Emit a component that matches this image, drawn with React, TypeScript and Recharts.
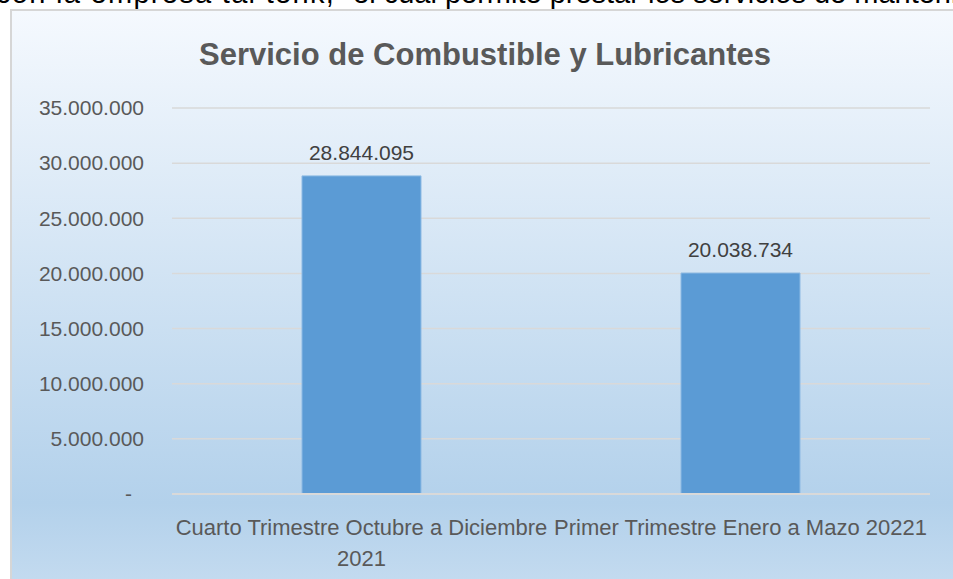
import { Bar, BarChart, CartesianGrid, LabelList, XAxis, YAxis } from "recharts"

const categories = [
  "Cuarto Trimestre Octubre a Diciembre 2021",
  "Primer Trimestre Enero a Mazo 20221",
]
const values = [28844095, 20038734]
const yTicks = [0, 5000000, 10000000, 15000000, 20000000, 25000000, 30000000, 35000000]

const data = categories.map((name, i) => ({ name, value: values[i] }))

const font = "'Liberation Sans', Arial, sans-serif"

const fmt = (v: number) => String(v).replace(/\B(?=(\d{3})+(?!\d))/g, ".")

let ctx: CanvasRenderingContext2D | null = null
function wrap(str: string, maxWidth: number, cssFont: string) {
  if (!ctx) ctx = document.createElement("canvas").getContext("2d")
  if (!ctx) return [str]
  ctx.font = cssFont
  const words = str.split(" ")
  const lines: string[] = []
  let cur = ""
  for (const w of words) {
    const next = cur ? cur + " " + w : w
    if (cur && ctx.measureText(next).width > maxWidth) {
      lines.push(cur)
      cur = w
    } else {
      cur = next
    }
  }
  if (cur) lines.push(cur)
  return lines
}

function YTick(props: any) {
  const { x, y, payload } = props
  const v = payload.value
  return (
    <text
      x={v === 0 ? x - 12 : x}
      y={y}
      dy="0.35em"
      textAnchor="end"
      fill="#595959"
      fontSize={21}
      fontFamily={font}
    >
      {v === 0 ? "-" : fmt(v)}
    </text>
  )
}

function XTick(props: any) {
  const { x, y, payload } = props
  const lines = wrap(String(payload.value), 380, "22px 'Liberation Sans'")
  return (
    <text x={x} y={y + 39} textAnchor="middle" fill="#595959" fontSize={22} fontFamily={font}>
      {lines.map((l, i) => (
        <tspan key={i} x={x} dy={i === 0 ? 0 : 31}>
          {l}
        </tspan>
      ))}
    </text>
  )
}

const topText: React.CSSProperties = {
  position: "absolute",
  top: -22,
  whiteSpace: "nowrap",
  fontSize: 29,
  lineHeight: "30px",
  color: "#000000",
}

export default function App() {
  return (
    <div
      style={{
        position: "absolute",
        left: 0,
        top: 0,
        width: 953,
        height: 579,
        overflow: "hidden",
        background: "#ffffff",
        fontFamily: font,
      }}
    >
      {/* text of the page above the chart, mostly cropped off */}
      <div style={{ ...topText, left: -4, letterSpacing: 1.3 }}>con la empresa tal tenk,</div>
      <div style={{ ...topText, left: 353 }}>
        el cual permite prestar los servicios de mantenimiento
      </div>
      <div
        style={{
          position: "absolute",
          left: 10,
          top: 9,
          width: 980,
          height: 600,
          border: "2px solid #d6d6d6",
          background: "linear-gradient(to bottom, #f5f9fe 0%, #b3d1eb 82%, #c9def1 100%)",
        }}
      />
      <div
        style={{
          position: "absolute",
          left: 0,
          top: 35,
          width: 970,
          textAlign: "center",
          fontSize: 31,
          fontWeight: "bold",
          lineHeight: "40px",
          color: "#595959",
        }}
      >
        Servicio de Combustible y Lubricantes
      </div>
      <div style={{ position: "absolute", left: 0, top: 0 }}>
        <BarChart
          width={953}
          height={579}
          data={data}
          margin={{ top: 108, right: 23, bottom: 0, left: 0 }}
        >
          <CartesianGrid vertical={false} stroke="#d9d9d9" strokeWidth={1.5} />
          <XAxis
            dataKey="name"
            height={85}
            tickLine={false}
            tickSize={0}
            axisLine={{ stroke: "#d9d9d9", strokeWidth: 2 }}
            tick={(p: any) => <XTick {...p} />}
            interval={0}
          />
          <YAxis
            width={172}
            domain={[0, 35000000]}
            ticks={yTicks}
            axisLine={false}
            tickLine={false}
            tickSize={0}
            tickMargin={28}
            tick={(p: any) => <YTick {...p} />}
          />
          <Bar
            dataKey="value"
            fill="#5b9bd5"
            stroke="#8dbae4"
            strokeWidth={1}
            barSize={119}
            isAnimationActive={false}
          >
            <LabelList
              dataKey="value"
              position="top"
              offset={16}
              formatter={(v: any) => fmt(Number(v))}
              fill="#404040"
              fontSize={21}
              fontFamily={font}
            />
          </Bar>
        </BarChart>
      </div>
    </div>
  )
}
